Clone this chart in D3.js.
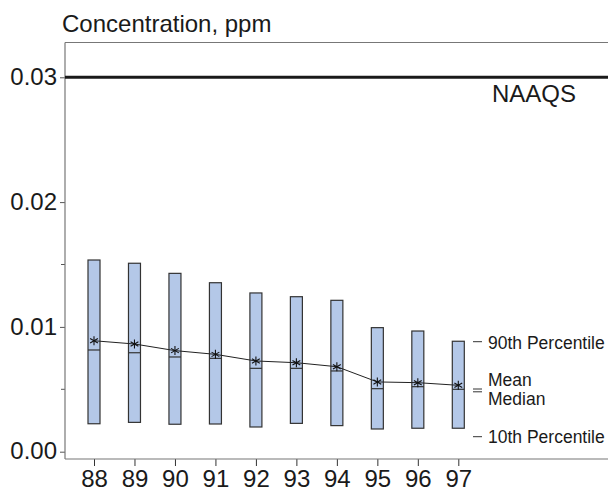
<!DOCTYPE html>
<html>
<head>
<meta charset="utf-8">
<script src="https://cdn.jsdelivr.net/npm/d3@7"></script>
<style>
body{margin:0;background:#fff;}
svg text{font-family:"Liberation Sans",Arial,sans-serif;fill:#1a1a1a;}
</style>
</head>
<body>
<svg id="chart" width="608" height="496"></svg>
<script>
// data
let years = [88, 89, 90, 91, 92, 93, 94, 95, 96, 97];
let p90 = [0.01536, 0.0151, 0.01429, 0.01354, 0.01272, 0.01242, 0.01213, 0.00994, 0.00967, 0.00885];
let p10 = [0.00224, 0.00235, 0.0022, 0.00222, 0.00198, 0.00227, 0.00209, 0.00182, 0.00188, 0.00188];
let means = [0.00889, 0.00863, 0.0081, 0.0078, 0.00727, 0.00713, 0.00681, 0.00559, 0.00553, 0.00532];
let medians = [0.00815, 0.00793, 0.00759, 0.00748, 0.00668, 0.00668, 0.00647, 0.00505, 0.00521, 0.005];
let yTicks = [0, 0.01, 0.02, 0.03];
let yMinor = [0.005, 0.015];
let naaqs = 0.03;

let svg = d3.select('#chart');
let left = 65, top_ = 42.5, bottom = 459, right = 608;

let x = d3.scaleLinear().domain([88, 97]).range([94, 458.3]);
let y = d3.scaleLinear().domain([0, 0.03]).range([451.7, 77.3]);

// frame
svg.append('line').attr('x1', left).attr('x2', right).attr('y1', top_).attr('y2', top_)
    .attr('stroke', '#777').attr('stroke-width', 1.2);

// y axis
let yAxis = svg.append('g').attr('transform', `translate(${left},0)`)
    .call(d3.axisLeft(y).tickValues(yTicks).tickFormat(d3.format('.2f')).tickSize(5).tickPadding(3));
yAxis.select('.domain').remove();
yAxis.selectAll('.tick line').attr('stroke', '#555');
yAxis.selectAll('.tick text').attr('font-size', 24).attr('dy', '0.3em').attr('fill', '#1a1a1a');
yAxis.selectAll('.minor').data(yMinor).enter().append('line')
    .attr('x1', -4).attr('x2', 0).attr('y1', d => y(d)).attr('y2', d => y(d)).attr('stroke', '#555');
svg.append('line').attr('x1', left).attr('x2', left).attr('y1', top_).attr('y2', bottom)
    .attr('stroke', '#777').attr('stroke-width', 1.2);

// x axis
let xAxis = svg.append('g').attr('transform', `translate(0,${bottom})`)
    .call(d3.axisBottom(x).tickValues(years).tickFormat(d => d).tickSize(7).tickPadding(4));
xAxis.select('.domain').remove();
xAxis.selectAll('.tick line').attr('stroke', '#333');
xAxis.selectAll('.tick text').attr('font-size', 24).attr('fill', '#1a1a1a');
svg.append('line').attr('x1', left).attr('x2', right).attr('y1', bottom).attr('y2', bottom)
    .attr('stroke', '#777').attr('stroke-width', 1.2);

// title
svg.append('text').attr('x', 62).attr('y', 32).attr('font-size', 24).text('Concentration, ppm');

// NAAQS line
svg.append('line').attr('x1', left).attr('x2', right).attr('y1', y(naaqs)).attr('y2', y(naaqs))
    .attr('stroke', '#1a1a1a').attr('stroke-width', 3);
svg.append('text').attr('x', 492).attr('y', 102).attr('font-size', 24).text('NAAQS');

// bars
let bw = 12;
let rows = years.map((yr, i) => ({yr: yr, hi: p90[i], lo: p10[i], mean: means[i], med: medians[i]}));
svg.selectAll('.bar').data(rows).enter().append('rect')
    .attr('x', d => x(d.yr) - bw / 2).attr('width', bw)
    .attr('y', d => y(d.hi)).attr('height', d => y(d.lo) - y(d.hi))
    .attr('fill', '#b4c8e8').attr('stroke', '#333').attr('stroke-width', 1.2);
svg.selectAll('.med').data(rows).enter().append('line')
    .attr('x1', d => x(d.yr) - bw / 2).attr('x2', d => x(d.yr) + bw / 2)
    .attr('y1', d => y(d.med)).attr('y2', d => y(d.med))
    .attr('stroke', '#333').attr('stroke-width', 1.2);

// mean line + stars
svg.append('path').datum(rows)
    .attr('d', d3.line().x(d => x(d.yr)).y(d => y(d.mean)))
    .attr('fill', 'none').attr('stroke', '#222').attr('stroke-width', 1);
svg.selectAll('.star').data(rows).enter().append('g')
    .attr('transform', d => `translate(${x(d.yr)},${y(d.mean)})`)
    .each(function(){
        let g = d3.select(this);
        [0, 60, 120].forEach(a => {
            g.append('line').attr('x1', 0).attr('x2', 0).attr('y1', -4.5).attr('y2', 4.5)
                .attr('transform', `rotate(${a})`).attr('stroke', '#111').attr('stroke-width', 1.1);
        });
    });

// legend (next to the last bar)
let lx = 473;
let legend = [
    {t: '90th Percentile', ly: 341.7, ty: 342.5},
    {t: 'Mean', ly: 389, ty: 380},
    {t: 'Median', ly: 391.8, ty: 398.5},
    {t: '10th Percentile', ly: 436.7, ty: 436.5}
];
svg.selectAll('.lg').data(legend).enter().append('line')
    .attr('x1', lx).attr('x2', lx + 9).attr('y1', d => d.ly).attr('y2', d => d.ly)
    .attr('stroke', '#333').attr('stroke-width', 1);
svg.selectAll('.lt').data(legend).enter().append('text')
    .attr('x', lx + 15).attr('y', d => d.ty).attr('dy', '0.35em').attr('font-size', 17.5).text(d => d.t);
</script>
</body>
</html>
